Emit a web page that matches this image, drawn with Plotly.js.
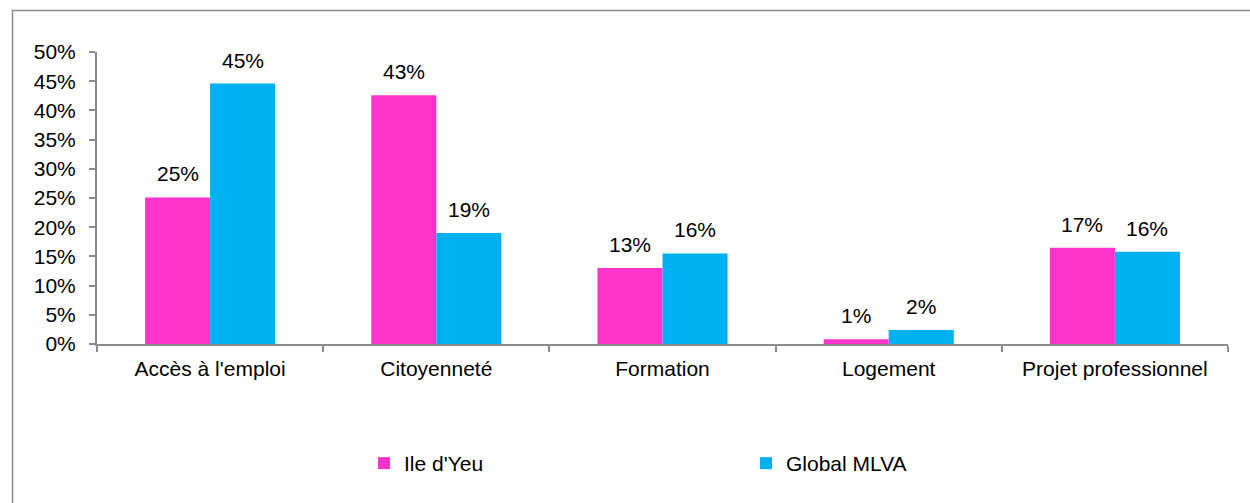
<!DOCTYPE html>
<html>
<head>
<meta charset="utf-8">
<script src="https://cdn.plot.ly/plotly-3.0.1.min.js"></script>
<style>
html,body{margin:0;padding:0;background:#fff;}
#chart{width:1250px;height:503px;}
</style>
</head>
<body>
<div id="chart"></div>
<script>
// Data
const categories = ["Accès à l'emploi", "Citoyenneté", "Formation", "Logement", "Projet professionnel"];
const ileDYeu = [0.251, 0.426, 0.130, 0.008, 0.165];
const globalMLVA = [0.446, 0.190, 0.155, 0.024, 0.158];
const seriesNames = ["Ile d'Yeu", "Global MLVA"];
const yTickVals = [0, 0.05, 0.10, 0.15, 0.20, 0.25, 0.30, 0.35, 0.40, 0.45, 0.50];

const W = 1250, H = 503;
const M = {l: 97, r: 22, t: 52, b: 159};
const plotW = W - M.l - M.r, plotH = H - M.t - M.b;
const font = {family: "Liberation Sans, Arial, sans-serif", size: 21, color: "#000"};
const axisGray = "#8c8c8c";
const bargap = 0.425;
const barPx = plotW / categories.length * (1 - bargap) / 2;

const traces = [
  {type: "bar", name: seriesNames[0], x: categories, y: ileDYeu, marker: {color: "#FF33CC"}, hoverinfo: "none"},
  {type: "bar", name: seriesNames[1], x: categories, y: globalMLVA, marker: {color: "#00B0F0"}, hoverinfo: "none"}
];

const annotations = [];
[ileDYeu, globalMLVA].forEach((vals, si) => {
  vals.forEach((v, i) => {
    annotations.push({
      x: categories[i], y: v, xref: "x", yref: "y",
      text: Math.round(v * 100) + "%",
      showarrow: false, yanchor: "bottom",
      xshift: (si === 0 ? -1 : 1) * barPx / 2,
      yshift: 10,
      font: font
    });
  });
});

const px2x = p => (p - M.l) / plotW;
const px2y = p => (H - M.b - p) / plotH;

const layout = {
  width: W, height: H,
  margin: M,
  paper_bgcolor: "#fff", plot_bgcolor: "#fff",
  font: font,
  barmode: "group",
  bargap: bargap, bargroupgap: 0,
  showlegend: true,
  legend: {
    orientation: "h", x: px2x(364), xanchor: "left", y: px2y(443), yanchor: "top",
    entrywidth: 337, entrywidthmode: "pixels",
    font: font, itemclick: false, itemdoubleclick: false
  },
  xaxis: {
    type: "category", showgrid: false, zeroline: false,
    showline: true, linecolor: axisGray, linewidth: 2,
    ticks: "outside", tickson: "boundaries", ticklen: 6, tickcolor: axisGray, tickwidth: 2,
    ticklabelstandoff: 5,
    tickfont: font, fixedrange: true
  },
  yaxis: {
    range: [0, 0.5], tickvals: yTickVals, tickformat: ".0%",
    showgrid: false, zeroline: false,
    showline: true, linecolor: axisGray, linewidth: 2,
    ticks: "outside", ticklen: 6, tickcolor: axisGray, tickwidth: 2,
    ticklabelstandoff: 9,
    tickfont: font, fixedrange: true
  },
  annotations: annotations,
  shapes: [{
    type: "rect", xref: "paper", yref: "paper",
    x0: px2x(12.5), x1: px2x(1260), y0: px2y(520), y1: px2y(10.5),
    line: {color: axisGray, width: 1.5}, layer: "below"
  }]
};

Plotly.newPlot("chart", traces, layout, {displayModeBar: false, staticPlot: true});
</script>
</body>
</html>
